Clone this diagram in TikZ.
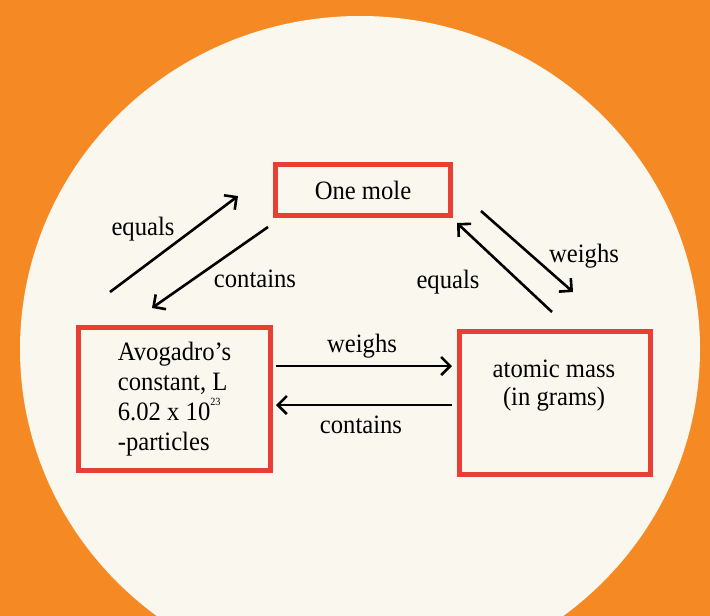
\documentclass[tikz,border=0pt]{standalone}
\usepackage{fontspec}
\setmainfont{Liberation Serif}[FakeStretch=0.93]
\usetikzlibrary{arrows.meta}
\definecolor{bgorange}{RGB}{245,138,36}
\definecolor{cream}{RGB}{250,247,238}
\definecolor{boxred}{RGB}{232,62,52}
\begin{document}
\begin{tikzpicture}[x=1pt,y=-1pt,
  mbox/.style={draw=boxred,line width=4.5pt,fill=cream,inner sep=0pt,font=\fontsize{26.5}{30}\selectfont},
  txt/.style={font=\fontsize{26.5}{28}\selectfont,inner sep=0pt},
  lbl/.style={font=\fontsize{26.5}{30}\selectfont,inner sep=0pt,anchor=base},
  conn/.style={line width=2.6pt,-{Straight Barb[length=9pt,width=18pt]}}]
\useasboundingbox (0,0) rectangle (710,616);
\fill[bgorange] (0,0) rectangle (710,616);
\fill[cream] (360,349) ellipse [x radius=340pt, y radius=333pt];
% boxes
\node[mbox,minimum width=175pt,minimum height=51pt] (mole) at (363,190) {One mole};
\node[mbox,minimum width=192pt,minimum height=143pt,align=left] (avog) at (174.5,399)
  {Avogadro’s\\ constant, L\\6.02 x 10\raisebox{1.25ex}{\fontsize{11}{11}\selectfont 23}\\-particles};
\node[mbox,minimum width=191pt,minimum height=143pt] (mass) at (555,403) {};
\node[txt,align=center] (masstext) at (554,386) {atomic mass\\(in grams)};
% connector end points
\coordinate (eqLs) at (110,292);
\coordinate (eqLe) at (238,196);
\coordinate (coLs) at (268,227);
\coordinate (coLe) at (152,308);
\coordinate (weRs) at (481,211);
\coordinate (weRe) at (573,292);
\coordinate (eqRs) at (552,312);
\coordinate (eqRe) at (457,223);
\coordinate (weHs) at (276,366);
\coordinate (weHe) at (452,366);
\coordinate (coHs) at (452,405);
\coordinate (coHe) at (276,405);
% connectors
\draw[conn] (eqLs) -- (eqLe);
\draw[conn] (coLs) -- (coLe);
\draw[conn] (weRs) -- (weRe);
\draw[conn] (eqRs) -- (eqRe);
\draw[conn] (weHs) -- (weHe);
\draw[conn] (coHs) -- (coHe);
% labels
\node[lbl] (l1) at (143,235) {equals};
\node[lbl] (l2) at (255,287) {contains};
\node[lbl] (l3) at (584,262) {weighs};
\node[lbl] (l4) at (448,288) {equals};
\node[lbl] (l5) at (362,352) {weighs};
\node[lbl] (l6) at (361,433) {contains};
\end{tikzpicture}
\end{document}
